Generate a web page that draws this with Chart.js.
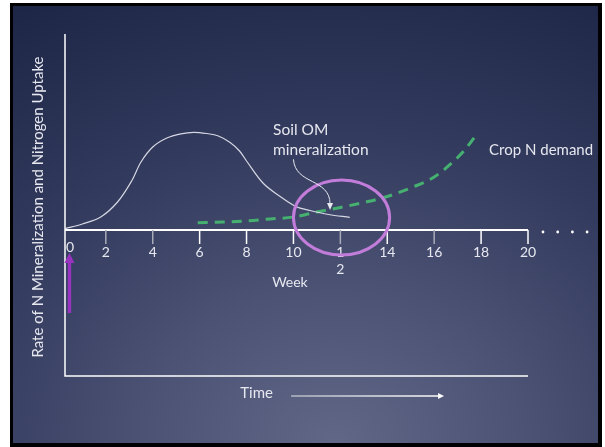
<!DOCTYPE html>
<html>
<head>
<meta charset="utf-8">
<script src="https://cdn.jsdelivr.net/npm/chart.js@4.4.0/dist/chart.umd.min.js"></script>
<style>
  html, body { margin: 0; padding: 0; background: #fff; }
  #slide {
    position: absolute; left: 10px; top: 3px; width: 585px; height: 437px;
    border: 3px solid #000; border-right-width: 4px; border-bottom-width: 4px;
    background: radial-gradient(ellipse 110% 120% at 55% 100%, #616786 0%, #4b5274 30%, #323a5d 60%, #1c2445 100%);
  }
  #chart { position: absolute; left: 0; top: 0; }
</style>
</head>
<body>
<div id="slide"></div>
<canvas id="chart" width="605" height="447"></canvas>
<script>
// week axis
const weekTicks = [0, 2, 4, 6, 8, 10, 12, 14, 16, 18, 20];
const weekLabels = ['0', '2', '4', '6', '8', '10', ['1', '2'], '14', '16', '18', '20'];

// soil OM mineralization (white curve)
const mineralWeek = [0.26, 1.0, 1.8, 2.5, 3.1, 3.5, 4.0, 4.6, 5.2, 5.75, 6.3, 6.8, 7.3, 7.7, 8.0, 8.7, 9.4, 10.1, 10.7, 11.5, 12.4];
const mineralRate = [0.13, 0.6, 1.33, 2.8, 4.9, 6.8, 8.3, 9.2, 9.62, 9.77, 9.65, 9.4, 8.75, 7.9, 6.9, 4.7, 3.4, 2.35, 1.95, 1.55, 1.27];

// crop N demand (green dashed curve)
const demandWeek = [5.92, 7, 8.1, 9, 10, 11, 12, 13, 14, 15.1, 16.0, 16.75, 17.3, 17.85];
const demandRate = [0.73, 0.8, 0.93, 1.1, 1.3, 1.8, 2.25, 2.75, 3.35, 4.3, 5.3, 6.7, 8.0, 9.7];

const textColor = '#e6e7ef';
const dimTicks = [2, 4, 12, 16];

function toPoints(xs, ys) {
  return xs.map((x, i) => ({ x: x, y: ys[i] }));
}

const slideDecor = {
  id: 'slideDecor',
  beforeDatasetsDraw(chart) {
    const ctx = chart.ctx;
    const xs = chart.scales.x, ys = chart.scales.y;
    const area = chart.chartArea;
    const y0 = ys.getPixelForValue(0);
    const xEnd = xs.getPixelForValue(20);
    ctx.save();
    ctx.strokeStyle = '#ffffff';
    ctx.lineWidth = 1.5;
    // left and bottom axes
    ctx.beginPath();
    ctx.moveTo(area.left, area.top);
    ctx.lineTo(area.left, area.bottom);
    ctx.lineTo(xEnd, area.bottom);
    ctx.stroke();
    // week axis
    ctx.lineWidth = 2;
    ctx.beginPath();
    ctx.moveTo(area.left, y0);
    ctx.lineTo(xEnd, y0);
    ctx.stroke();
    // ticks and labels
    ctx.font = '14px Lato';
    ctx.textAlign = 'center';
    ctx.textBaseline = 'middle';
    weekTicks.forEach((w, i) => {
      const x = xs.getPixelForValue(w);
      const label = weekLabels[i];
      if (w === 0) {
        ctx.fillStyle = textColor;
        ctx.fillText(label, area.left + 5, y0 + 17);
        return;
      }
      ctx.strokeStyle = dimTicks.includes(w) ? '#a9abb8' : '#ffffff';
      ctx.lineWidth = 1.5;
      ctx.beginPath();
      ctx.moveTo(x, y0);
      ctx.lineTo(x, y0 + 14);
      ctx.stroke();
      ctx.fillStyle = textColor;
      if (Array.isArray(label)) {
        label.forEach((part, j) => ctx.fillText(part, x, y0 + 22 + j * 17.5));
      } else {
        ctx.fillText(label, x, y0 + 22);
      }
    });
    // continuation dots
    ctx.fillStyle = '#ffffff';
    for (let k = 0; k < 4; k++) {
      ctx.beginPath();
      ctx.arc(xEnd + 15 + k * 14.7, y0 + 2, 1.4, 0, Math.PI * 2);
      ctx.fill();
    }
    ctx.restore();
  },
  afterDatasetsDraw(chart) {
    const ctx = chart.ctx;
    const xs = chart.scales.x, ys = chart.scales.y;
    const px = v => xs.getPixelForValue(v);
    const py = v => ys.getPixelForValue(v);
    ctx.save();

    // highlight ellipse
    ctx.strokeStyle = '#c27cda';
    ctx.lineWidth = 3;
    ctx.beginPath();
    ctx.ellipse(px(12.05), py(1.25), px(14.1) - px(12.05), py(1.25) - py(5.0), 0, 0, Math.PI * 2);
    ctx.stroke();

    // callout arrow
    ctx.strokeStyle = '#e8e9f0';
    ctx.fillStyle = '#e8e9f0';
    ctx.lineWidth = 1;
    ctx.beginPath();
    ctx.moveTo(px(10.0), py(7.07));
    ctx.bezierCurveTo(px(10.07), py(4.5), px(11.56), py(5.2), px(11.56), py(2.6));
    ctx.stroke();
    const tipX = px(11.56), tipY = py(2.0);
    ctx.beginPath();
    ctx.moveTo(tipX, tipY);
    ctx.lineTo(tipX - 3, tipY - 7);
    ctx.lineTo(tipX + 3, tipY - 7);
    ctx.closePath();
    ctx.fill();

    // purple application arrow
    ctx.fillStyle = '#9733bf';
    const ax = px(0.45);
    const aTip = py(-2.3), aTail = py(-8.3);
    ctx.fillRect(ax - 1.7, aTip + 8, 3.4, aTail - aTip - 8);
    ctx.beginPath();
    ctx.moveTo(ax, aTip);
    ctx.lineTo(ax - 5, aTip + 10);
    ctx.lineTo(ax + 5, aTip + 10);
    ctx.closePath();
    ctx.fill();

    // texts
    ctx.fillStyle = textColor;
    ctx.textBaseline = 'middle';
    ctx.font = '15.5px Lato';
    ctx.textAlign = 'left';
    ctx.fillText('Soil OM', px(9.13), py(10.0));
    ctx.fillText('mineralization', px(9.13), py(8.0));
    ctx.font = '15px Lato';
    ctx.fillText('Crop N demand', px(18.34), py(8.0));
    ctx.textAlign = 'center';
    ctx.fillText('Time', px(8.43), py(-16.3));
    ctx.font = '14px Lato';
    ctx.fillText('Week', px(9.85), py(-5.2));

    // time arrow
    const tY = py(-16.6);
    const g = ctx.createLinearGradient(px(9.9), 0, px(16.42), 0);
    g.addColorStop(0, '#b4b7c6');
    g.addColorStop(1, '#ffffff');
    ctx.strokeStyle = g;
    ctx.lineWidth = 1.5;
    ctx.beginPath();
    ctx.moveTo(px(9.9), tY);
    ctx.lineTo(px(16.42) - 4, tY);
    ctx.stroke();
    ctx.fillStyle = '#ffffff';
    ctx.beginPath();
    ctx.moveTo(px(16.42), tY);
    ctx.lineTo(px(16.42) - 6, tY - 3);
    ctx.lineTo(px(16.42) - 6, tY + 3);
    ctx.closePath();
    ctx.fill();

    // y axis title
    ctx.save();
    ctx.translate(px(-0.89), py(2.3));
    ctx.rotate(-Math.PI / 2);
    ctx.font = '15px Lato';
    ctx.fillStyle = textColor;
    ctx.fillText('Rate of N Mineralization and Nitrogen Uptake', 0, 0);
    ctx.restore();

    ctx.restore();
  }
};

new Chart(document.getElementById('chart'), {
  type: 'line',
  data: {
    datasets: [{
      label: 'Soil OM mineralization',
      data: toPoints(mineralWeek, mineralRate),
      borderColor: 'rgba(232,233,242,0.9)',
      borderWidth: 1.2,
      pointRadius: 0,
      tension: 0.35,
      fill: false,
      clip: false
    }, {
      label: 'Crop N demand',
      data: toPoints(demandWeek, demandRate),
      borderColor: '#45b06f',
      borderWidth: 3,
      borderDash: [10, 7],
      pointRadius: 0,
      cubicInterpolationMode: 'monotone',
      fill: false,
      clip: false
    }]
  },
  options: {
    responsive: false,
    animation: false,
    devicePixelRatio: 1,
    layout: { padding: { left: 65, right: 77, top: 34, bottom: 71 } },
    scales: {
      x: { type: 'linear', min: 0.26, max: 20, display: false },
      y: { type: 'linear', min: -14.6, max: 19.6, display: false }
    },
    plugins: {
      legend: { display: false },
      tooltip: { enabled: false }
    }
  },
  plugins: [slideDecor]
});
</script>
</body>
</html>
